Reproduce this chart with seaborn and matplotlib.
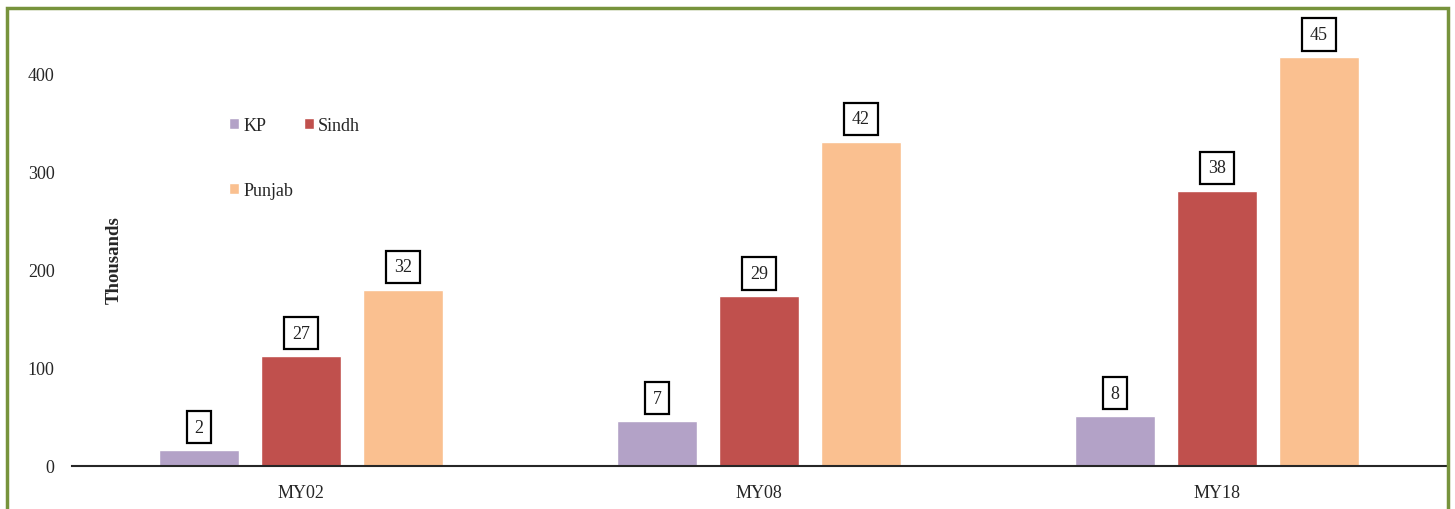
import matplotlib
matplotlib.use("Agg")
import matplotlib.pyplot as plt
from matplotlib.patches import Rectangle
import pandas as pd
import seaborn as sns

# values in thousands
years = ["MY02", "MY08", "MY18"]
provinces = ["KP", "Sindh", "Punjab"]
kp = [16, 46, 51]
sindh = [112, 173, 281]
punjab = [180, 331, 417]
# numbers shown in the boxes above each bar
box_kp = [2, 7, 8]
box_sindh = [27, 29, 38]
box_punjab = [32, 42, 45]

colors = ["#B3A2C7", "#C0504D", "#FAC090"]

df = pd.DataFrame({
    "year": years * 3,
    "province": [p for p in provinces for _ in years],
    "value": kp + sindh + punjab,
})
boxes = [box_kp, box_sindh, box_punjab]

sns.set_theme(style="white")
plt.rcParams["font.family"] = ["Liberation Serif", "DejaVu Serif"]

fig = plt.figure(figsize=(14.55, 5.10), dpi=100)
ax = fig.add_axes([72 / 1455, 1 - 467 / 510, 1374 / 1455, 441 / 510])

sns.barplot(data=df, x="year", y="value", hue="province", order=years,
            hue_order=provinces, palette=colors, width=0.668, gap=0.21,
            saturation=1, ax=ax)

for cont, labels in zip(ax.containers, boxes):
    for bar, lab in zip(cont, labels):
        ax.annotate(str(lab), (bar.get_x() + bar.get_width() / 2, bar.get_height()),
                    xytext=(0, 16.5), textcoords="offset points",
                    ha="center", va="center", fontsize=13, color="#222222",
                    bbox=dict(boxstyle="square,pad=0.42", fc="white",
                              ec="black", lw=1.6))

ax.set_ylim(0, 450)
ax.set_yticks([0, 100, 200, 300, 400])
ax.set_xlabel("")
ax.set_ylabel("Thousands", fontsize=13.5, fontweight="bold")
ax.yaxis.set_label_coords(0.037, 0.469)
ax.tick_params(axis="both", length=0, labelsize=13, colors="#262626")
ax.tick_params(axis="x", pad=13)
ax.tick_params(axis="y", pad=12.5)
for s in ["top", "right", "left"]:
    ax.spines[s].set_visible(False)
ax.spines["bottom"].set_color("#262626")
ax.spines["bottom"].set_linewidth(1.5)

# legend fills column-wise, so reorder to get KP Sindh / Punjab
handles, labels = ax.get_legend_handles_labels()
order = [0, 2, 1]
ax.legend([handles[i] for i in order], [labels[i] for i in order], ncol=2,
          frameon=False, loc="upper left",
          bbox_to_anchor=(0.114, 0.792), borderpad=0, borderaxespad=0,
          handlelength=0.55, handleheight=0.55, handletextpad=0.25,
          labelspacing=2.65, columnspacing=0.6, fontsize=13)

# green frame around the chart area
fig.add_artist(Rectangle((7 / 1455, -0.1), 1441 / 1455, 1.1 - 9 / 510,
                         transform=fig.transFigure, fill=False,
                         edgecolor="#77933C", lw=2.5, clip_on=False))

fig.savefig("out.png", dpi=100)
